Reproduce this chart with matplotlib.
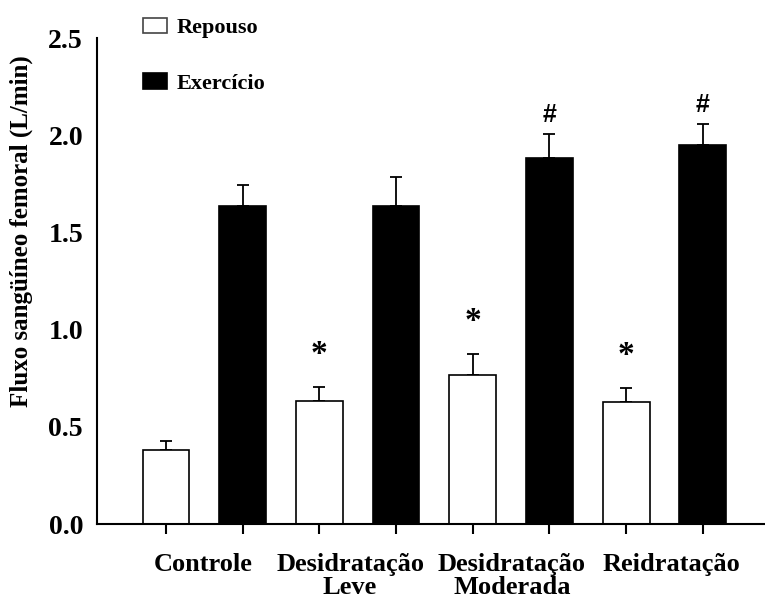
import matplotlib
matplotlib.use('Agg')
import matplotlib.pyplot as plt
from matplotlib.patches import Rectangle
import numpy as np

plt.rcParams['font.family'] = ['Liberation Serif', 'DejaVu Serif']
plt.rcParams['font.weight'] = 'bold'

# group means and SEM (L/min)
grupos = ['Controle', 'Desidratação\nLeve', 'Desidratação\nModerada', 'Reidratação']
repouso = [0.38, 0.635, 0.765, 0.63]
repouso_ep = [0.045, 0.07, 0.11, 0.07]
exercicio = [1.635, 1.635, 1.885, 1.95]
exercicio_ep = [0.11, 0.15, 0.12, 0.11]
marca_repouso = ['', '*', '*', '*']
marca_exercicio = ['', '', '#', '#']

fig = plt.figure(figsize=(7.65, 5.98), dpi=100)
ax = fig.add_axes([97 / 765, 1 - 524 / 598, 1 - 97 / 765, (524 - 38) / 598])

idx = np.arange(len(grupos))
x_rep = idx * 2
x_exe = idx * 2 + 1
w = 0.61

ax.bar(x_rep, repouso, w, color='white', edgecolor='black', linewidth=1.2, zorder=2)
ax.bar(x_exe, exercicio, w, color='black', edgecolor='black', linewidth=1.2, zorder=2)
ax.errorbar(x_rep, repouso, yerr=[np.zeros(len(grupos)), repouso_ep], fmt='none',
            ecolor='black', elinewidth=1.3, capsize=4, capthick=1.3, zorder=1)
ax.errorbar(x_exe, exercicio, yerr=[np.zeros(len(grupos)), exercicio_ep], fmt='none',
            ecolor='black', elinewidth=1.3, capsize=4.5, capthick=1.3, zorder=1)

# significance marks above error bars
for x, v, e, m in zip(x_rep, repouso, repouso_ep, marca_repouso):
    if m:
        ax.annotate(m, (x, v + e), xytext=(0, 12), textcoords='offset points',
                    ha='center', va='bottom', fontsize=24, fontweight='bold')
for x, v, e, m in zip(x_exe, exercicio, exercicio_ep, marca_exercicio):
    if m:
        ax.annotate(m, (x, v + e), xytext=(0, 5), textcoords='offset points',
                    ha='center', va='bottom', fontsize=18, fontweight='bold',
                    family='Liberation Sans')

ax.set_xlim(-0.9, 7.81)
ax.set_ylim(0, 2.5)
ax.set_yticks([0, 0.5, 1.0, 1.5, 2.0, 2.5])
ax.set_yticklabels(['0.0', '0.5', '1.0', '1.5', '2.0', '2.5'])
ax.tick_params(axis='y', length=0, pad=10, labelsize=20)

ax.set_xticks(np.arange(8))
ax.set_xticklabels([])
ax.tick_params(axis='x', which='major', direction='out', length=7, width=1.5)

# group names under each pair of bars (slightly offset as in the layout)
desloc = [-0.02, -0.10, 0.01, 0.09]
for i, (g, d) in enumerate(zip(grupos, desloc)):
    ax.annotate(g, (i * 2 + 0.5 + d, 0), xycoords=('data', 'axes fraction'),
                xytext=(0, -21), textcoords='offset points', ha='center', va='top',
                fontsize=19, fontweight='bold', linespacing=0.98, annotation_clip=False)

ax.spines['top'].set_visible(False)
ax.spines['right'].set_visible(False)
ax.spines['left'].set_linewidth(1.5)
ax.spines['bottom'].set_linewidth(1.5)

ax.set_ylabel('Fluxo sangüíneo femoral (L/min)', fontsize=18, fontweight='bold')
ax.yaxis.set_label_coords(-0.096, 0.603)

# legend boxes with labels
fig.patches.append(Rectangle((143 / 765, 1 - 33 / 598), 24 / 765, 15 / 598,
                             transform=fig.transFigure, facecolor='white',
                             edgecolor='#444444', linewidth=1.2))
fig.patches.append(Rectangle((143 / 765, 1 - 89 / 598), 24 / 765, 16 / 598,
                             transform=fig.transFigure, facecolor='black',
                             edgecolor='black', linewidth=1.2))
fig.text(177 / 765, 1 - 28 / 598, 'Repouso', fontsize=16, fontweight='bold', va='center')
fig.text(177 / 765, 1 - 84 / 598, 'Exercício', fontsize=16, fontweight='bold', va='center')

plt.savefig('out.png', dpi=100)
